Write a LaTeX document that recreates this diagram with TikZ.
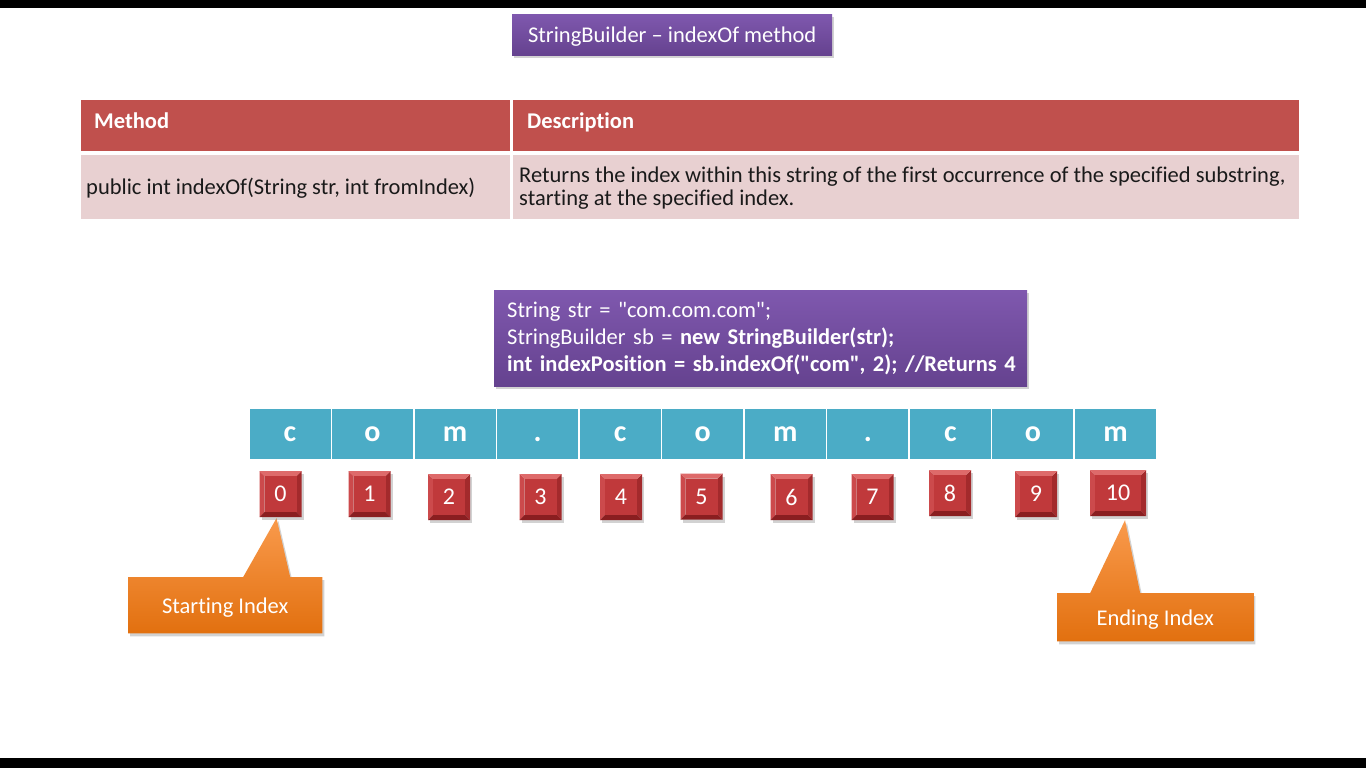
\documentclass[tikz,border=0pt]{standalone}
\usepackage{fontspec}
\setmainfont{Carlito}[Ligatures={TeXOff,NoCommon}]
\usetikzlibrary{shadows,backgrounds,calc}
\definecolor{ttlA}{HTML}{7F58AE}
\definecolor{ttlB}{HTML}{65428F}
\definecolor{hdr}{HTML}{C0504D}
\definecolor{rowc}{HTML}{E8D0D1}
\definecolor{cellc}{HTML}{4BACC6}
\definecolor{redf}{HTML}{C0393B}
\definecolor{redt}{HTML}{DE6A6A}
\definecolor{redl}{HTML}{CC4A4C}
\definecolor{redr}{HTML}{A32A2C}
\definecolor{redb}{HTML}{8A1E20}
\definecolor{orA}{HTML}{F99A4C}
\definecolor{orB}{HTML}{E2700F}
\definecolor{txtd}{HTML}{1A1A1A}
\tikzset{
  base/.style={font=\fontsize{22.5}{27}\selectfont},
  shad/.style={drop shadow={opacity=0.35,shadow xshift=2pt,shadow yshift=-3pt}},
  purplebox/.style={base,shad,top color=ttlA,bottom color=ttlB,text=white,inner sep=0pt},
  hdrcell/.style={fill=hdr,minimum height=51pt,inner sep=0pt,anchor=north west},
  rowcell/.style={fill=rowc,minimum height=64pt,inner sep=0pt,anchor=north west},
  letter/.style={fill=cellc,draw=white,line width=1.5pt,minimum width=82.5pt,minimum height=52pt,
    inner sep=0pt,text=white,font=\bfseries\fontsize{30}{30}\selectfont,anchor=north west,
    text height=15pt,text depth=0pt},
  idx/.style={shad,minimum height=46pt,minimum width=42pt,inner sep=0pt,text=white,
    font=\fontsize{24}{24}\selectfont,
    path picture={
      \coordinate (psw) at (path picture bounding box.south west);
      \coordinate (pne) at (path picture bounding box.north east);
      \coordinate (pnw) at (psw |- pne);
      \coordinate (pse) at (pne |- psw);
      \coordinate (qsw) at ([xshift=5pt,yshift=5pt]psw);
      \coordinate (qne) at ([xshift=-5pt,yshift=-5pt]pne);
      \coordinate (qnw) at (qsw |- qne);
      \coordinate (qse) at (qne |- qsw);
      \fill[redl] (psw) -- (pnw) -- (qnw) -- (qsw) -- cycle;
      \fill[redr] (pse) -- (pne) -- (qne) -- (qse) -- cycle;
      \fill[redt] (pnw) -- (pne) -- (qne) -- (qnw) -- cycle;
      \fill[redb] (psw) -- (pse) -- (qse) -- (qsw) -- cycle;
      \fill[redf] (qsw) rectangle (qne);
    }},
  callout/.style={base,text=white,inner sep=0pt,anchor=north west},
  calloutfill/.style={shad,top color=orA,bottom color=orB}
}
\begin{document}
\begin{tikzpicture}[x=1pt,y=-1pt]
\useasboundingbox (0,0) rectangle (1366,768);
\begin{scope}[on background layer]
\fill[white] (0,0) rectangle (1366,768);
\end{scope}
\fill[black] (0,0) rectangle (1366,8);
\fill[black] (0,758) rectangle (1366,768);

% title
\node[purplebox,minimum width=320pt,minimum height=41pt,anchor=north west,text depth=0pt] (title) at (512,14) {StringBuilder – indexOf method};

% table
\node[hdrcell,minimum width=429pt] (h1) at (81,100) {};
\node[hdrcell,minimum width=786pt] (h2) at (513,100) {};
\node[rowcell,minimum width=429pt] (r1) at (81,155) {};
\node[rowcell,minimum width=786pt] (r2) at (513,155) {};
\node[text=white,font=\bfseries\fontsize{22.5}{27}\selectfont,anchor=base west,inner sep=0pt] (th1) at ([xshift=13pt,yshift=-2.5pt]h1.west) {Method};
\node[text=white,font=\bfseries\fontsize{22.5}{27}\selectfont,anchor=base west,inner sep=0pt] (th2) at ([xshift=14pt,yshift=-2.5pt]h2.west) {Description};
\node[base,text=txtd,anchor=base west,inner sep=0pt] (td1) at ([xshift=5pt,yshift=-7pt]r1.west) {public int indexOf(String str, int fromIndex)};
\node[font=\fontsize{22.5}{22.5}\selectfont,text=txtd,anchor=west,inner sep=0pt,align=left] (td2) at ([xshift=6pt,yshift=-1pt]r2.west) {Returns the index within this string of the first occurrence of the specified substring,\\starting at the specified index.};

% code box
\node[purplebox,minimum width=533pt,minimum height=96pt,anchor=north west,align=left,text width=533pt,inner xsep=0pt] (code) at (494,290)
{\hspace*{13pt}\mbox{String str = "com.com.com";}\\
\hspace*{13pt}\mbox{StringBuilder sb = \textbf{new StringBuilder(str);}}\\
\hspace*{13pt}\mbox{\textbf{int indexPosition = sb.indexOf("com", 2); //Returns 4}}};

% letter cells
\foreach \ch [count=\i from 0] in {c,o,m,.,c,o,m,.,c,o,m} {
  \node[letter] (c\i) at ({248+82.545*\i},407) {\ch};
}

% index boxes
\node[idx] (i0) at (280.5,494) {0};
\node[idx] (i1) at (369.5,494) {1};
\node[idx] (i2) at (449,497) {2};
\node[idx] (i3) at (540.5,497) {3};
\node[idx] (i4) at (621,497) {4};
\node[idx] (i5) at (701.5,496.5) {5};
\node[idx] (i6) at (791.5,497) {6};
\node[idx] (i7) at (872.5,497) {7};
\node[idx] (i8) at (950,493) {8};
\node[idx] (i9) at (1036,494) {9};
\node[idx,minimum width=56pt] (i10) at (1118,493) {10};

% callouts
\node[callout,minimum width=194pt,minimum height=56pt,text depth=0pt] (start) at (128,577) {Starting Index};
\node[callout,minimum width=196pt,minimum height=48pt,text depth=0pt] (endn) at (1057,593) {Ending Index};
\begin{scope}[on background layer]
\path[calloutfill] (start.north west) -- ([xshift=18pt]start.north) -- ([xshift=-4pt,yshift=-1pt]i0.south)
  -- ([xshift=65pt]start.north) -- (start.north east) -- (start.south east) -- (start.south west) -- cycle;
\path[calloutfill] (endn.north west) -- ([xshift=-65pt]endn.north) -- ([xshift=7pt,yshift=-4pt]i10.south)
  -- ([xshift=-15pt]endn.north) -- (endn.north east) -- (endn.south east) -- (endn.south west) -- cycle;
\end{scope}
\end{tikzpicture}
\end{document}
